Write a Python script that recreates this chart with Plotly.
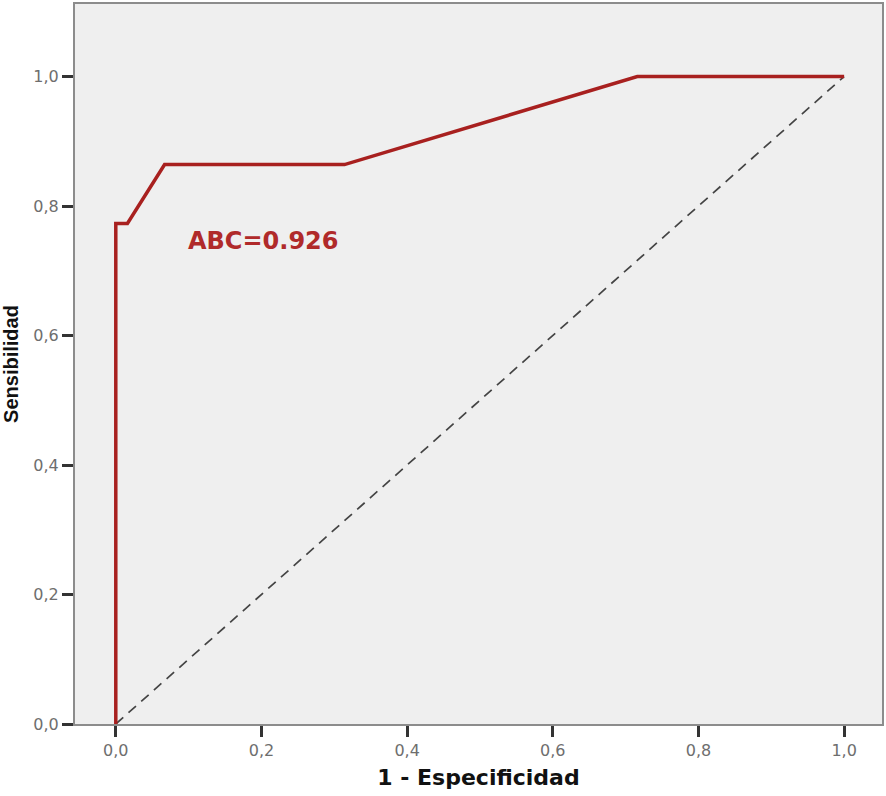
import plotly.graph_objects as go

# ROC curve data
fpr = [0.0, 0.0, 0.016, 0.067, 0.314, 0.716, 1.0]
tpr = [0.0, 0.773, 0.773, 0.864, 0.864, 1.0, 1.0]
diag_x = [0.0, 1.0]
diag_y = [0.0, 1.0]
tick_vals = [0.0, 0.2, 0.4, 0.6, 0.8, 1.0]
tick_text = ["0,0", "0,2", "0,4", "0,6", "0,8", "1,0"]
auc_label = "ABC=0.926"

fig = go.Figure()
fig.add_trace(go.Scatter(x=diag_x, y=diag_y, mode="lines",
                         line=dict(color="#444444", width=1.7, dash="10px,7px"),
                         hoverinfo="skip", showlegend=False))
fig.add_trace(go.Scatter(x=fpr, y=tpr, mode="lines",
                         line=dict(color="#a8201f", width=3.5),
                         showlegend=False))

fig.add_annotation(x=0.097, y=0.746, text="<b>" + auc_label + "</b>", showarrow=False,
                   xanchor="left", yanchor="middle",
                   font=dict(family="DejaVu Sans", size=24, color="#b02a2a"))

axis_common = dict(
    showgrid=False, zeroline=False,
    showline=True, linecolor="#8c8c8c", linewidth=2, mirror=True,
    ticks="outside", ticklen=11, tickwidth=3, tickcolor="#333333",
    tickvals=tick_vals, ticktext=tick_text,
    tickfont=dict(family="DejaVu Sans", size=16, color="#6e6e6e"),
)

fig.update_layout(
    width=886, height=796,
    margin=dict(l=75, r=3, t=2, b=72),
    paper_bgcolor="white", plot_bgcolor="#efefef",
    xaxis=dict(range=[-0.056, 1.052], title=dict(text="<b>1 - Especificidad</b>", standoff=10,
               font=dict(family="DejaVu Sans", size=22, color="#111111")), **axis_common),
    yaxis=dict(range=[0.0, 1.112], title=dict(text="<b>Sensibilidad</b>", standoff=10,
               font=dict(family="Liberation Sans, Arial", size=20, color="#111111")), **axis_common),
)

fig.write_html("out.html", config={"displayModeBar": False},
               post_script="document.body.style.margin='0px';")
